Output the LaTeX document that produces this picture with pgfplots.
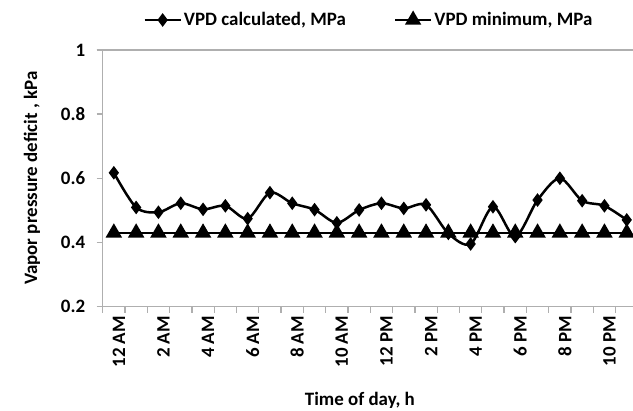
\documentclass[border=0pt]{standalone}
\usepackage{fontspec}
\setmainfont{Carlito}
\usepackage{pgfplots}
\pgfplotsset{compat=1.18}
\definecolor{axgray}{RGB}{175,175,175}
\newcommand{\lbl}{\fontsize{19}{22}\selectfont\bfseries}

\begin{document}
\begin{tikzpicture}
\begin{axis}[
  at={(0,0)}, anchor=south west,
  scale only axis, width=530.3bp, height=256.5bp,
  xmin=-0.5, xmax=23.28, ymin=0.2, ymax=1,
  axis x line*=bottom, axis y line*=left,
  axis line style={axgray, line width=1.3bp},
  tick align=outside,
  major tick length=6bp, minor tick length=6bp,
  xtick={0,2,...,22},
  xticklabels={12 AM,2 AM,4 AM,6 AM,8 AM,10 AM,12 PM,2 PM,4 PM,6 PM,8 PM,10 PM},
  minor xtick={-0.5,0.5,...,23.5},
  major x tick style={draw=none},
  minor x tick style={axgray, line width=1.3bp},
  y tick style={axgray, line width=1.3bp},
  x tick label style={rotate=90, anchor=east, font=\lbl, yshift=-5bp},
  ytick={0.2,0.4,0.6,0.8,1},
  yticklabels={0.2,0.4,0.6,0.8,1},
  y tick label style={font=\lbl, xshift=-8bp},
  extra y ticks={1}, extra y tick labels={},
  extra y tick style={grid=major, major grid style={axgray, line width=1.3bp}},
  xlabel={Time of day, h},
  ylabel={Vapor pressure deficit , kPa},
  x label style={at={(axis description cs:0.485,-0.3645)}, anchor=center, font=\lbl},
  y label style={at={(axis description cs:-0.1333,0.5)}, anchor=center, font=\lbl},
  legend columns=2,
  legend style={at={(axis description cs:0.502,1.117)}, anchor=center,
    draw=none, fill=none, font=\lbl,
    nodes={inner xsep=2bp},
    /tikz/every even column/.append style={column sep=46bp}},
  legend image code/.code={%
    \draw[mark repeat=2,mark phase=2,#1] plot coordinates {(0bp,0bp) (18bp,0bp) (36bp,0bp)};},
]
\addplot[black, line width=2.5bp, smooth, tension=0.5, mark=diamond*, mark size=4.8bp,
  mark options={solid, fill=black}] coordinates {
  (0,0.617) (1,0.509) (2,0.494) (3,0.522) (4,0.503) (5,0.514)
  (6,0.474) (7,0.555) (8,0.522) (9,0.502) (10,0.461) (11,0.501)
  (12,0.522) (13,0.506) (14,0.517) (15,0.428) (16,0.395) (17,0.511)
  (18,0.418) (19,0.532) (20,0.600) (21,0.530) (22,0.514) (23,0.470)
};
\addlegendentry{VPD calculated, MPa}
\addplot[black, line width=2.5bp, mark=triangle*, mark size=7bp,
  mark options={solid, fill=black}] coordinates {
  (0,0.43) (1,0.43) (2,0.43) (3,0.43) (4,0.43) (5,0.43)
  (6,0.43) (7,0.43) (8,0.43) (9,0.43) (10,0.43) (11,0.43)
  (12,0.43) (13,0.43) (14,0.43) (15,0.43) (16,0.43) (17,0.43)
  (18,0.43) (19,0.43) (20,0.43) (21,0.43) (22,0.43) (23,0.43)
};
\addlegendentry{VPD minimum, MPa}
\end{axis}
\pgfresetboundingbox
\path (-102.7bp,-104.5bp) rectangle (530.3bp,306.5bp);
\end{tikzpicture}
\end{document}
